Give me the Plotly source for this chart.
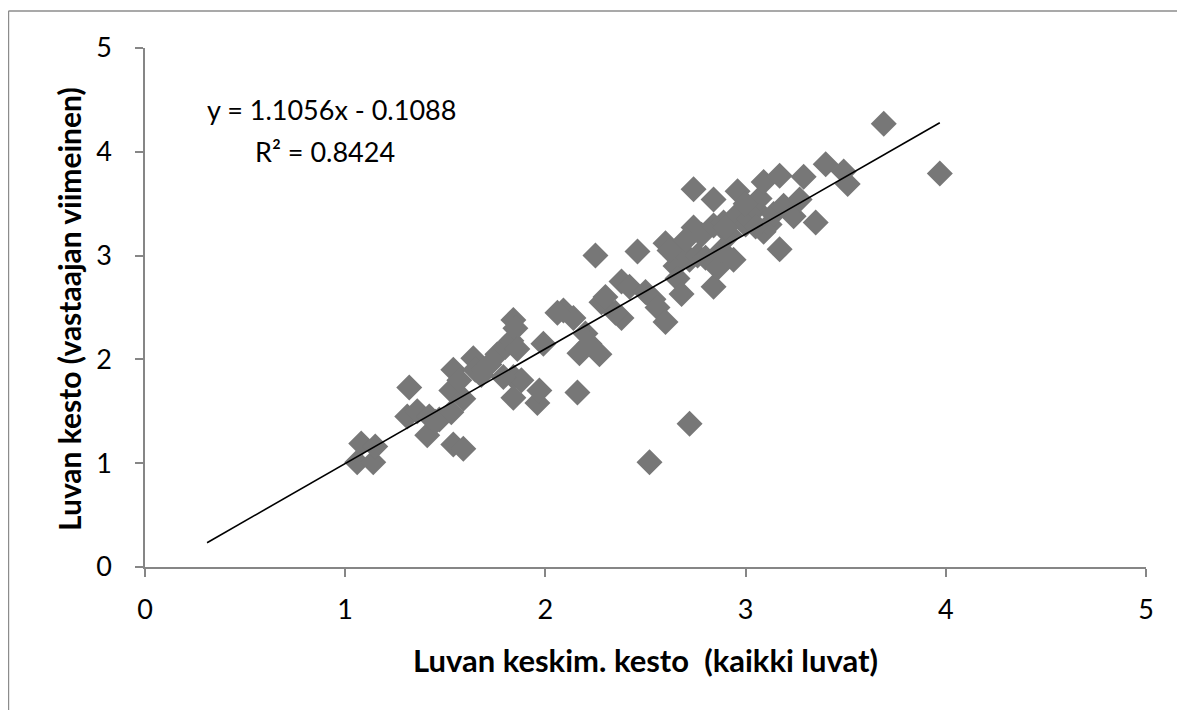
import plotly.graph_objects as go

# Data
x_vals = [1.06, 1.08, 1.14, 1.15, 1.32, 1.31, 1.36, 1.41, 1.42, 1.47, 1.53, 1.54, 1.59,
          1.54, 1.53, 1.59, 1.57, 1.64, 1.65, 1.69, 1.68, 1.76, 1.80, 1.83, 1.84, 1.85,
          1.84, 1.84, 1.88, 1.86, 1.96, 1.97, 1.99, 1.79, 2.09, 2.14, 2.16, 2.17, 2.20,
          2.22, 2.27, 2.25, 2.28, 2.30, 2.38, 2.38, 2.42, 2.46, 2.50, 2.52, 2.54, 2.56,
          2.60, 2.60, 2.65, 2.66, 2.68, 2.68, 2.72, 2.72, 2.74, 2.74, 2.70, 2.76, 2.78,
          2.80, 2.84, 2.84, 2.84, 2.86, 2.89, 2.88, 2.92, 2.94, 2.95, 2.96, 3.00, 3.02,
          3.05, 3.07, 3.09, 3.09, 3.12, 3.14, 3.17, 3.17, 3.19, 3.24, 3.27, 3.29, 3.35,
          3.40, 3.49, 3.51, 3.69, 3.97, 2.62, 2.90, 3.00, 2.06, 1.72, 1.45, 2.35, 3.05]
y_vals = [1.01, 1.19, 1.01, 1.16, 1.73, 1.45, 1.50, 1.27, 1.45, 1.42, 1.49, 1.18, 1.14,
          1.90, 1.70, 1.62, 1.80, 2.01, 1.90, 1.90, 1.85, 2.05, 2.12, 2.18, 2.38, 2.30,
          1.83, 1.63, 1.80, 2.10, 1.58, 1.70, 2.15, 1.83, 2.47, 2.40, 1.68, 2.06, 2.25,
          2.15, 2.05, 3.00, 2.55, 2.60, 2.40, 2.75, 2.70, 3.04, 2.65, 1.01, 2.58, 2.50,
          2.36, 3.12, 2.90, 2.78, 2.63, 3.05, 1.38, 2.96, 3.64, 3.27, 3.15, 3.00, 3.20,
          2.98, 3.54, 3.29, 2.70, 2.88, 3.32, 3.05, 3.20, 2.96, 3.38, 3.62, 3.30, 3.35,
          3.45, 3.55, 3.71, 3.23, 3.30, 3.40, 3.77, 3.06, 3.48, 3.38, 3.54, 3.76, 3.32,
          3.88, 3.81, 3.69, 4.27, 3.79, 3.05, 3.27, 3.50, 2.45, 1.95, 1.40, 2.45, 3.28]

slope = 1.1056
intercept = -0.1088
r_squared = 0.8424
trend_x = [0.31, max(x_vals)]
trend_y = [slope * v + intercept for v in trend_x]

x_ticks = [0, 1, 2, 3, 4, 5]
y_ticks = [0, 1, 2, 3, 4, 5]

x_title = "Luvan keskim. kesto&nbsp; (kaikki luvat)"
y_title = "Luvan kesto (vastaajan viimeinen)"

FONT = "Lato, 'Open Sans', sans-serif"
AXIS_COLOR = "#868686"
TICK_SIZE = 27
X_TITLE_SIZE = 31
Y_TITLE_SIZE = 30
EQ_SIZE = 27

fig = go.Figure()
fig.add_trace(go.Scatter(
    x=x_vals, y=y_vals, mode="markers",
    marker=dict(symbol="diamond", size=20, color="#777777", line=dict(width=0)),
    showlegend=False, hoverinfo="x+y"))
fig.add_trace(go.Scatter(
    x=trend_x, y=trend_y, mode="lines",
    line=dict(color="black", width=1.6), showlegend=False, hoverinfo="skip"))

fig.update_layout(
    width=1185, height=710,
    margin=dict(l=137, r=47, t=40, b=151, autoexpand=False),
    paper_bgcolor="white", plot_bgcolor="white",
    font=dict(family=FONT, size=TICK_SIZE, color="black"),
    xaxis=dict(range=[0, 5], tickvals=x_ticks, ticktext=[str(t) for t in x_ticks],
               showgrid=False, zeroline=False, showline=True, linecolor=AXIS_COLOR,
               linewidth=1.5, ticks="outside", ticklen=8, tickcolor=AXIS_COLOR,
               tickwidth=1.5, ticklabelstandoff=10,
               tickfont=dict(family=FONT, size=TICK_SIZE, color="black")),
    yaxis=dict(range=[0, 5], tickvals=y_ticks, ticktext=[str(t) for t in y_ticks],
               showgrid=False, zeroline=False, showline=True, linecolor=AXIS_COLOR,
               linewidth=1.5, ticks="outside", ticklen=8, tickcolor=AXIS_COLOR,
               tickwidth=1.5, ticklabelstandoff=18,
               tickfont=dict(family=FONT, size=TICK_SIZE, color="black")),
    shapes=[
        dict(type="line", xref="paper", yref="paper", x0=-0.1364, x1=1.06, y0=1.0713, y1=1.0713,
             line=dict(color="#8c8c8c", width=1.5)),
        dict(type="line", xref="paper", yref="paper", x0=-0.1364, x1=-0.1364, y0=1.0713, y1=-0.3,
             line=dict(color="#8c8c8c", width=1.5)),
    ],
    annotations=[
        dict(x=0.93, y=4.41, xref="x", yref="y", showarrow=False,
             text=f"y = {slope}x - {abs(intercept)}",
             font=dict(family=FONT, size=EQ_SIZE, color="black"), xanchor="center", yanchor="middle"),
        dict(x=0.90, y=4.0, xref="x", yref="y", showarrow=False,
             text=f"R² = {r_squared}",
             font=dict(family=FONT, size=EQ_SIZE, color="black"), xanchor="center", yanchor="middle"),
        dict(x=0.5, y=-0.179, xref="paper", yref="paper", showarrow=False,
             text=f"<b>{x_title}</b>",
             font=dict(family=FONT, size=X_TITLE_SIZE, color="black"), xanchor="center", yanchor="middle"),
        dict(x=-0.076, y=0.497, xref="paper", yref="paper", showarrow=False, textangle=-90,
             text=f"<b>{y_title}</b>",
             font=dict(family=FONT, size=Y_TITLE_SIZE, color="black"), xanchor="center", yanchor="middle"),
    ],
)

fig.write_html("out.html")
